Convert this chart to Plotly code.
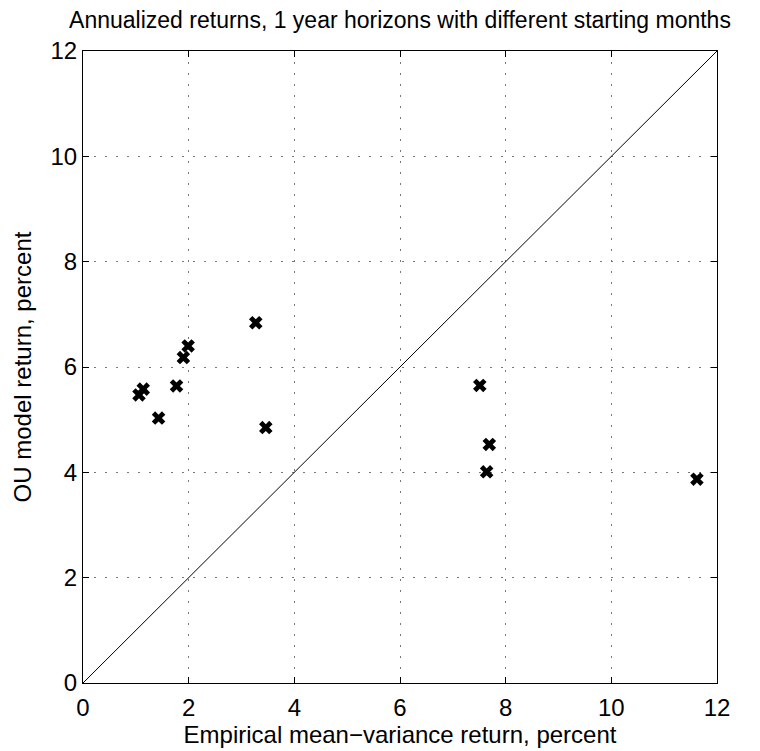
import plotly.graph_objects as go

empirical = [3.27, 1.99, 1.90, 1.77, 1.14, 1.06, 1.43, 3.46, 7.51, 7.69, 7.64, 11.62]
ou_model = [6.84, 6.40, 6.18, 5.64, 5.58, 5.47, 5.03, 4.85, 5.65, 4.53, 4.01, 3.87]
diag = [0, 12]
ticks = [0, 2, 4, 6, 8, 10, 12]

FONT = "Liberation Sans, Arial, Helvetica, sans-serif"
FS = 24

fig = go.Figure()
fig.add_trace(go.Scatter(x=diag, y=diag, mode="lines",
                         line=dict(color="black", width=1), showlegend=False))
fig.add_trace(go.Scatter(x=empirical, y=ou_model, mode="markers",
                         marker=dict(symbol="x", size=12, color="black",
                                     line=dict(width=0)),
                         showlegend=False))

axis_common = dict(
    range=[0, 12], tickvals=ticks, ticktext=[str(t) for t in ticks],
    showgrid=True, gridcolor="#777777", griddash="2px,9px", gridwidth=1,
    zeroline=False, showline=True, linecolor="black", linewidth=1,
    mirror="ticks", ticks="inside", ticklen=6, tickcolor="black",
    tickfont=dict(size=FS, color="black", family=FONT),
    automargin=False,
)

fig.update_layout(
    width=760, height=751,
    margin=dict(l=75, r=51, t=43, b=76),
    paper_bgcolor="white", plot_bgcolor="white",
    font=dict(family=FONT, color="black"),
    title=dict(text="Annualized returns, 1 year horizons with different starting months",
               x=(400 - 8) / 760, xanchor="center", y=1 - 12 / 751, yanchor="middle",
               font=dict(size=23, color="black", family=FONT)),
    xaxis=dict(title=dict(text="Empirical mean\u2212variance return, percent",
                          font=dict(size=FS), standoff=1),
               ticklabelstandoff=3, **axis_common),
    yaxis=dict(title=dict(text="OU model return, percent",
                          font=dict(size=FS), standoff=12), **axis_common),
)

fig.write_html("out.html")
